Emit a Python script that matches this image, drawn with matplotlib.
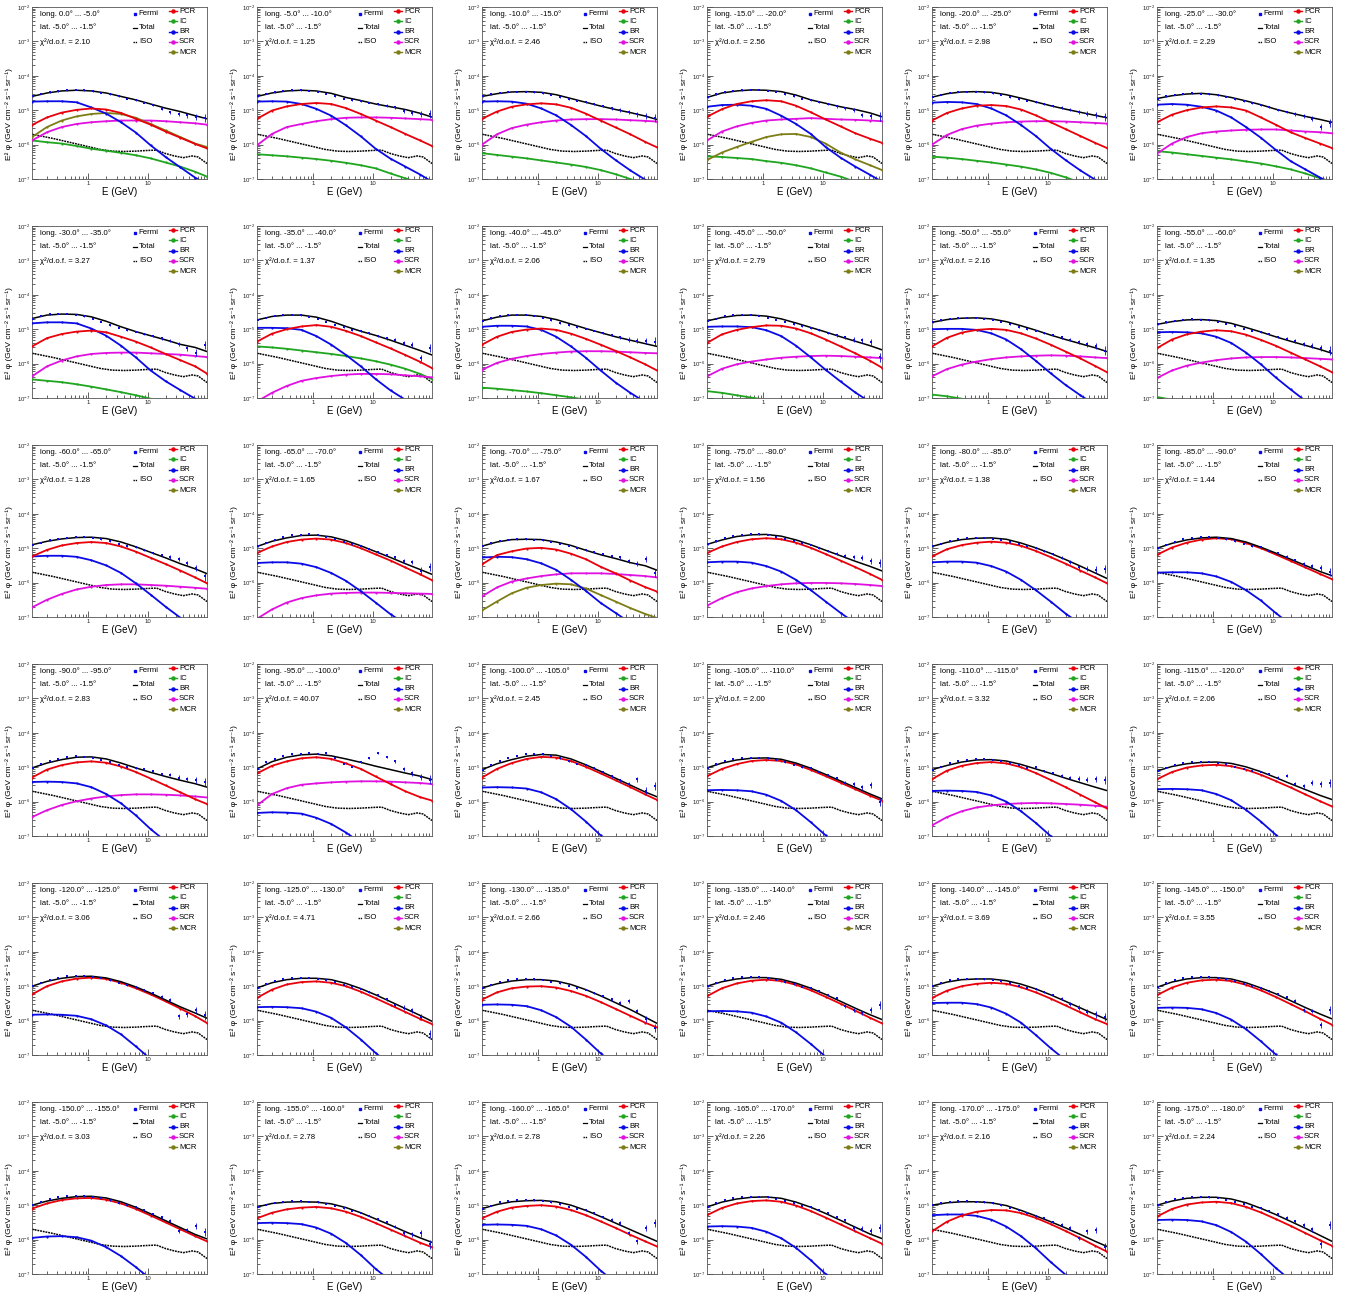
import numpy as np
import matplotlib
matplotlib.use("Agg")
import matplotlib.pyplot as plt
from matplotlib.ticker import FixedLocator, FixedFormatter, NullFormatter

plt.rcParams['font.family'] = ['Liberation Sans', 'DejaVu Sans']
plt.rcParams['mathtext.fontset'] = 'custom'
plt.rcParams['mathtext.rm'] = 'Liberation Sans'
plt.rcParams['mathtext.it'] = 'Liberation Sans:italic'

# longitude bins (lower edge) and fit quality of each panel
lon_lo = [0.0] + [-5.0 * i for i in range(1, 36)]
chi2 = [2.10, 1.25, 2.46, 2.56, 2.98, 2.29,
        3.27, 1.37, 2.06, 2.79, 2.16, 1.35,
        1.28, 1.65, 1.67, 1.56, 1.38, 1.44,
        2.83, 40.07, 2.45, 2.00, 3.32, 2.06,
        3.06, 4.71, 2.66, 2.46, 3.69, 3.55,
        3.03, 2.78, 2.78, 2.26, 2.16, 2.24]

# energies (GeV)
E_model = [0.112, 0.2, 0.355, 0.631, 1.12, 2.0, 3.55, 6.31, 11.2, 20.0, 35.5, 63.1, 100.0]
E_fermi = [0.115, 0.16, 0.224, 0.313, 0.436, 0.61, 0.851, 1.19, 1.66, 2.32, 3.24,
           4.52, 6.31, 8.81, 12.3, 17.2, 24.0, 33.5, 46.8, 65.3, 91.2]
E_iso = [0.112, 0.158, 0.251, 0.398, 0.631, 1.0, 1.58, 2.51, 3.98, 6.31, 10.0,
         14.1, 20.0, 28.2, 39.8, 56.2, 70.8, 100.0]

# log10 of E^2 flux, GeV cm^-2 s^-1 sr^-1
iso = [-5.70, -5.75, -5.82, -5.90, -5.98, -6.06, -6.14, -6.19, -6.20, -6.19, -6.17,
       -6.16, -6.26, -6.33, -6.38, -6.33, -6.36, -6.55]

# log10 error half-width of the Fermi points
fermi_err = [0.01, 0.01, 0.01, 0.01, 0.01, 0.01, 0.01, 0.01, 0.01, 0.015, 0.015,
             0.02, 0.02, 0.025, 0.03, 0.04, 0.05, 0.06, 0.07, 0.09, 0.12]

total = [
    [-4.60, -4.50, -4.44, -4.42, -4.44, -4.50, -4.60, -4.70, -4.82, -4.94, -5.04, -5.16, -5.25],
    [-4.60, -4.50, -4.44, -4.42, -4.44, -4.51, -4.63, -4.72, -4.82, -4.90, -4.98, -5.09, -5.20],
    [-4.60, -4.52, -4.47, -4.46, -4.48, -4.55, -4.66, -4.77, -4.88, -4.98, -5.07, -5.17, -5.27],
    [-4.63, -4.50, -4.44, -4.41, -4.42, -4.46, -4.56, -4.70, -4.80, -4.90, -4.98, -5.08, -5.19],
    [-4.62, -4.52, -4.47, -4.46, -4.48, -4.55, -4.65, -4.76, -4.87, -4.97, -5.06, -5.15, -5.22],
    [-4.66, -4.58, -4.53, -4.51, -4.55, -4.63, -4.73, -4.84, -4.97, -5.08, -5.18, -5.27, -5.35],
    [-4.69, -4.59, -4.56, -4.57, -4.64, -4.77, -4.93, -5.07, -5.19, -5.31, -5.44, -5.53, -5.65],
    [-4.73, -4.63, -4.59, -4.59, -4.65, -4.77, -4.92, -5.06, -5.18, -5.32, -5.47, -5.62, -5.75],
    [-4.76, -4.65, -4.59, -4.59, -4.63, -4.72, -4.85, -4.98, -5.10, -5.22, -5.32, -5.42, -5.50],
    [-4.76, -4.66, -4.60, -4.59, -4.62, -4.70, -4.82, -4.95, -5.08, -5.22, -5.35, -5.48, -5.60],
    [-4.80, -4.72, -4.68, -4.67, -4.70, -4.78, -4.90, -5.03, -5.17, -5.30, -5.42, -5.54, -5.65],
    [-4.86, -4.78, -4.73, -4.72, -4.75, -4.83, -4.95, -5.08, -5.22, -5.35, -5.47, -5.59, -5.70],
    [-4.90, -4.80, -4.73, -4.69, -4.68, -4.72, -4.82, -4.96, -5.12, -5.28, -5.45, -5.60, -5.74],
    [-4.95, -4.80, -4.70, -4.63, -4.62, -4.67, -4.78, -4.93, -5.10, -5.27, -5.45, -5.62, -5.76],
    [-4.94, -4.82, -4.75, -4.74, -4.75, -4.82, -4.92, -5.06, -5.19, -5.30, -5.42, -5.51, -5.64],
    [-4.89, -4.76, -4.66, -4.61, -4.60, -4.65, -4.76, -4.90, -5.06, -5.22, -5.38, -5.53, -5.66],
    [-4.95, -4.83, -4.75, -4.71, -4.70, -4.74, -4.85, -4.99, -5.15, -5.33, -5.52, -5.72, -5.88],
    [-5.00, -4.86, -4.76, -4.70, -4.68, -4.72, -4.82, -4.97, -5.14, -5.32, -5.50, -5.68, -5.80],
    [-5.02, -4.88, -4.78, -4.71, -4.70, -4.76, -4.88, -5.02, -5.15, -5.27, -5.38, -5.48, -5.58],
    [-5.05, -4.84, -4.71, -4.64, -4.62, -4.67, -4.76, -4.86, -4.97, -5.07, -5.17, -5.26, -5.36],
    [-5.07, -4.90, -4.78, -4.68, -4.63, -4.65, -4.76, -4.93, -5.12, -5.32, -5.52, -5.72, -5.86],
    [-5.02, -4.88, -4.79, -4.74, -4.73, -4.77, -4.88, -5.03, -5.21, -5.40, -5.59, -5.78, -5.92],
    [-5.07, -4.95, -4.85, -4.79, -4.78, -4.82, -4.92, -5.05, -5.18, -5.32, -5.45, -5.58, -5.68],
    [-5.11, -4.98, -4.90, -4.86, -4.85, -4.89, -4.99, -5.13, -5.30, -5.48, -5.65, -5.82, -5.94],
    [-5.00, -4.86, -4.77, -4.72, -4.71, -4.76, -4.87, -5.02, -5.20, -5.40, -5.60, -5.78, -5.93],
    [-5.05, -4.90, -4.81, -4.77, -4.77, -4.81, -4.92, -5.07, -5.25, -5.45, -5.65, -5.85, -6.02],
    [-5.05, -4.93, -4.85, -4.81, -4.81, -4.85, -4.95, -5.10, -5.28, -5.48, -5.68, -5.90, -6.08],
    [-5.00, -4.87, -4.79, -4.75, -4.75, -4.80, -4.91, -5.06, -5.24, -5.44, -5.64, -5.83, -5.97],
    [-5.00, -4.88, -4.81, -4.79, -4.79, -4.84, -4.94, -5.08, -5.25, -5.44, -5.63, -5.82, -5.97],
    [-5.03, -4.88, -4.79, -4.75, -4.75, -4.79, -4.90, -5.05, -5.22, -5.42, -5.62, -5.81, -5.95],
    [-5.00, -4.88, -4.80, -4.75, -4.74, -4.79, -4.90, -5.06, -5.25, -5.45, -5.65, -5.85, -5.98],
    [-5.05, -4.95, -4.91, -4.90, -4.91, -4.96, -5.07, -5.22, -5.40, -5.58, -5.77, -5.95, -6.08],
    [-5.10, -4.98, -4.90, -4.87, -4.86, -4.90, -5.00, -5.15, -5.33, -5.52, -5.71, -5.90, -6.05],
    [-5.05, -4.91, -4.82, -4.77, -4.76, -4.80, -4.91, -5.06, -5.24, -5.44, -5.64, -5.84, -5.97],
    [-5.00, -4.93, -4.90, -4.90, -4.93, -5.01, -5.15, -5.31, -5.48, -5.66, -5.85, -6.05, -6.20],
    [-5.00, -4.88, -4.80, -4.77, -4.77, -4.82, -4.93, -5.09, -5.27, -5.47, -5.67, -5.88, -6.05],
]

pcr = [
    [-5.43, -5.21, -5.07, -4.99, -4.95, -4.98, -5.08, -5.25, -5.42, -5.62, -5.80, -5.98, -6.11],
    [-5.25, -5.01, -4.89, -4.82, -4.79, -4.82, -4.94, -5.11, -5.30, -5.49, -5.69, -5.88, -6.04],
    [-5.25, -5.04, -4.90, -4.83, -4.80, -4.83, -4.93, -5.10, -5.30, -5.50, -5.70, -5.92, -6.08],
    [-5.19, -4.97, -4.82, -4.74, -4.71, -4.74, -4.87, -5.06, -5.27, -5.47, -5.67, -5.83, -5.95],
    [-5.30, -5.08, -4.95, -4.87, -4.85, -4.88, -4.98, -5.15, -5.35, -5.55, -5.75, -5.95, -6.10],
    [-5.35, -5.13, -5.00, -4.92, -4.89, -4.92, -5.01, -5.21, -5.42, -5.64, -5.81, -5.97, -6.10],
    [-5.50, -5.26, -5.14, -5.07, -5.04, -5.09, -5.22, -5.36, -5.53, -5.72, -5.90, -6.08, -6.29],
    [-5.36, -5.13, -5.00, -4.92, -4.88, -4.93, -5.05, -5.20, -5.38, -5.56, -5.75, -5.95, -6.13],
    [-5.45, -5.22, -5.08, -5.01, -4.98, -5.02, -5.13, -5.28, -5.45, -5.63, -5.82, -6.02, -6.20],
    [-5.40, -5.15, -5.02, -4.94, -4.89, -4.90, -4.98, -5.12, -5.30, -5.50, -5.70, -5.92, -6.12],
    [-5.50, -5.25, -5.10, -5.02, -4.99, -5.02, -5.12, -5.27, -5.45, -5.65, -5.85, -6.07, -6.25],
    [-5.55, -5.30, -5.15, -5.07, -5.03, -5.06, -5.16, -5.31, -5.48, -5.68, -5.88, -6.08, -6.25],
    [-5.24, -5.05, -4.92, -4.85, -4.82, -4.85, -4.95, -5.10, -5.28, -5.46, -5.65, -5.85, -6.02],
    [-5.14, -4.95, -4.82, -4.75, -4.72, -4.75, -4.85, -5.00, -5.18, -5.36, -5.56, -5.76, -5.93],
    [-5.47, -5.20, -5.09, -5.01, -4.99, -5.04, -5.16, -5.32, -5.54, -5.73, -5.94, -6.13, -6.26],
    [-5.14, -4.95, -4.82, -4.74, -4.71, -4.74, -4.84, -4.99, -5.17, -5.36, -5.55, -5.75, -5.92],
    [-5.24, -5.03, -4.91, -4.84, -4.81, -4.84, -4.93, -5.08, -5.26, -5.45, -5.65, -5.85, -6.02],
    [-5.19, -4.98, -4.84, -4.75, -4.71, -4.74, -4.85, -5.00, -5.18, -5.37, -5.56, -5.75, -5.90],
    [-5.30, -5.07, -4.94, -4.86, -4.83, -4.87, -4.98, -5.14, -5.33, -5.53, -5.73, -5.93, -6.07],
    [-5.18, -4.96, -4.83, -4.74, -4.71, -4.76, -4.89, -5.05, -5.27, -5.49, -5.70, -5.87, -5.97],
    [-5.30, -5.05, -4.88, -4.76, -4.70, -4.72, -4.82, -4.99, -5.18, -5.38, -5.58, -5.79, -5.95],
    [-5.26, -5.05, -4.91, -4.82, -4.79, -4.82, -4.92, -5.08, -5.26, -5.45, -5.64, -5.83, -5.97],
    [-5.35, -5.10, -4.96, -4.88, -4.85, -4.89, -5.00, -5.17, -5.37, -5.58, -5.80, -6.02, -6.20],
    [-5.35, -5.14, -5.01, -4.95, -4.93, -4.97, -5.07, -5.22, -5.40, -5.59, -5.79, -5.99, -6.14],
    [-5.24, -5.00, -4.86, -4.78, -4.75, -4.79, -4.90, -5.06, -5.24, -5.44, -5.65, -5.87, -6.07],
    [-5.34, -5.10, -4.95, -4.88, -4.86, -4.90, -5.00, -5.16, -5.35, -5.55, -5.75, -5.95, -6.10],
    [-5.39, -5.18, -5.06, -5.01, -5.00, -5.04, -5.14, -5.28, -5.46, -5.66, -5.86, -6.06, -6.20],
    [-5.29, -5.06, -4.92, -4.84, -4.81, -4.85, -4.96, -5.12, -5.31, -5.51, -5.71, -5.92, -6.08],
    [-5.34, -5.13, -5.00, -4.93, -4.90, -4.93, -5.03, -5.18, -5.36, -5.56, -5.76, -5.96, -6.10],
    [-5.26, -5.04, -4.90, -4.83, -4.81, -4.85, -4.96, -5.12, -5.31, -5.52, -5.73, -5.95, -6.12],
    [-5.10, -4.95, -4.85, -4.80, -4.79, -4.84, -4.95, -5.11, -5.30, -5.50, -5.70, -5.90, -6.05],
    [-5.38, -5.22, -5.12, -5.07, -5.05, -5.09, -5.19, -5.34, -5.52, -5.71, -5.90, -6.09, -6.22],
    [-5.38, -5.19, -5.07, -5.02, -5.00, -5.04, -5.14, -5.29, -5.47, -5.66, -5.86, -6.05, -6.20],
    [-5.29, -5.08, -4.95, -4.88, -4.86, -4.90, -5.01, -5.17, -5.36, -5.56, -5.76, -5.96, -6.12],
    [-5.76, -5.48, -5.30, -5.19, -5.14, -5.15, -5.23, -5.37, -5.55, -5.75, -5.96, -6.18, -6.35],
    [-5.33, -5.11, -4.98, -4.92, -4.90, -4.94, -5.05, -5.21, -5.40, -5.60, -5.81, -6.02, -6.18],
]

br = [
    [-4.75, -4.74, -4.74, -4.77, -4.92, -5.10, -5.35, -5.65, -6.02, -6.36, -6.66, -6.96, -7.15],
    [-4.75, -4.74, -4.75, -4.82, -4.96, -5.16, -5.44, -5.76, -6.12, -6.41, -6.64, -6.87, -7.08],
    [-4.75, -4.74, -4.75, -4.81, -4.95, -5.15, -5.43, -5.75, -6.12, -6.45, -6.75, -7.02, -7.20],
    [-4.90, -4.85, -4.84, -4.87, -4.96, -5.16, -5.40, -5.69, -6.07, -6.38, -6.64, -6.88, -7.08],
    [-4.78, -4.76, -4.77, -4.82, -4.95, -5.15, -5.43, -5.75, -6.12, -6.45, -6.75, -7.02, -7.20],
    [-4.84, -4.82, -4.84, -4.90, -5.01, -5.21, -5.49, -5.80, -6.15, -6.48, -6.72, -6.96, -7.14],
    [-4.83, -4.80, -4.80, -4.83, -4.98, -5.19, -5.48, -5.82, -6.20, -6.51, -6.77, -7.02, -7.23],
    [-4.96, -4.96, -4.97, -5.02, -5.20, -5.45, -5.75, -6.08, -6.45, -6.78, -7.05, -7.30, -7.45],
    [-4.93, -4.90, -4.90, -4.92, -5.02, -5.22, -5.50, -5.83, -6.20, -6.55, -6.85, -7.12, -7.30],
    [-4.93, -4.92, -4.92, -4.94, -5.03, -5.20, -5.48, -5.82, -6.18, -6.52, -6.84, -7.12, -7.30],
    [-5.00, -4.99, -4.99, -5.02, -5.12, -5.30, -5.58, -5.92, -6.28, -6.62, -6.92, -7.20, -7.38],
    [-5.09, -5.08, -5.09, -5.12, -5.22, -5.40, -5.68, -6.02, -6.40, -6.75, -7.08, -7.35, -7.50],
    [-5.24, -5.22, -5.22, -5.25, -5.35, -5.50, -5.72, -6.02, -6.35, -6.70, -7.02, -7.30, -7.50],
    [-5.43, -5.41, -5.41, -5.45, -5.55, -5.72, -5.95, -6.25, -6.58, -6.92, -7.20, -7.40, -7.50],
    [-5.27, -5.25, -5.26, -5.32, -5.44, -5.63, -5.92, -6.24, -6.59, -6.88, -7.17, -7.40, -7.50],
    [-5.41, -5.39, -5.39, -5.42, -5.52, -5.68, -5.92, -6.22, -6.55, -6.88, -7.18, -7.40, -7.50],
    [-5.41, -5.39, -5.39, -5.42, -5.52, -5.68, -5.92, -6.22, -6.55, -6.90, -7.20, -7.40, -7.50],
    [-5.71, -5.70, -5.70, -5.73, -5.82, -5.98, -6.22, -6.52, -6.88, -7.22, -7.50, -7.60, -7.70],
    [-5.43, -5.42, -5.43, -5.47, -5.58, -5.78, -6.05, -6.40, -6.80, -7.15, -7.45, -7.60, -7.70],
    [-6.33, -6.31, -6.32, -6.35, -6.47, -6.65, -6.90, -7.20, -7.50, -7.80, -8.00, -8.00, -8.00],
    [-5.59, -5.58, -5.59, -5.62, -5.73, -5.93, -6.22, -6.58, -6.98, -7.35, -7.60, -7.70, -7.80],
    [-5.67, -5.66, -5.67, -5.70, -5.80, -5.98, -6.25, -6.60, -6.98, -7.35, -7.60, -7.70, -7.80],
    [-5.69, -5.68, -5.69, -5.72, -5.82, -6.00, -6.28, -6.62, -7.00, -7.38, -7.60, -7.70, -7.80],
    [-5.64, -5.63, -5.64, -5.67, -5.78, -5.96, -6.24, -6.58, -6.96, -7.32, -7.60, -7.70, -7.80],
    [-5.83, -5.82, -5.83, -5.86, -5.96, -6.14, -6.40, -6.75, -7.12, -7.50, -7.80, -8.00, -8.00],
    [-5.61, -5.60, -5.61, -5.64, -5.74, -5.92, -6.20, -6.55, -6.94, -7.30, -7.60, -7.70, -7.80],
    [-5.54, -5.53, -5.54, -5.58, -5.70, -5.90, -6.18, -6.55, -6.95, -7.30, -7.60, -7.70, -7.80],
    [-5.73, -5.72, -5.73, -5.77, -5.88, -6.06, -6.34, -6.68, -7.05, -7.40, -7.70, -7.80, -7.90],
    [-5.49, -5.48, -5.48, -5.52, -5.62, -5.80, -6.06, -6.42, -6.80, -7.15, -7.45, -7.60, -7.70],
    [-5.63, -5.62, -5.63, -5.67, -5.78, -5.97, -6.25, -6.60, -6.98, -7.35, -7.60, -7.70, -7.80],
    [-5.95, -5.91, -5.90, -5.93, -6.03, -6.22, -6.48, -6.80, -7.15, -7.50, -7.80, -8.00, -8.00],
    [-5.52, -5.51, -5.52, -5.55, -5.65, -5.83, -6.10, -6.45, -6.85, -7.20, -7.50, -7.60, -7.70],
    [-5.57, -5.56, -5.57, -5.60, -5.70, -5.88, -6.15, -6.50, -6.90, -7.25, -7.55, -7.70, -7.80],
    [-5.62, -5.61, -5.62, -5.66, -5.77, -5.96, -6.24, -6.60, -7.00, -7.35, -7.60, -7.70, -7.80],
    [-5.29, -5.27, -5.27, -5.31, -5.42, -5.62, -5.90, -6.25, -6.65, -7.02, -7.35, -7.60, -7.70],
    [-5.43, -5.42, -5.43, -5.47, -5.58, -5.78, -6.06, -6.42, -6.82, -7.18, -7.50, -7.70, -7.80],
]

# SCR, IC and MCR only where they show above 1e-7 (keyed by panel index)
scr = {
    0: [-5.88, -5.64, -5.49, -5.40, -5.35, -5.32, -5.30, -5.30, -5.30, -5.32, -5.35, -5.38, -5.42],
    1: [-6.02, -5.69, -5.49, -5.40, -5.32, -5.26, -5.22, -5.21, -5.21, -5.22, -5.24, -5.26, -5.28],
    2: [-6.00, -5.70, -5.52, -5.42, -5.35, -5.30, -5.27, -5.26, -5.26, -5.27, -5.29, -5.31, -5.33],
    3: [-5.88, -5.62, -5.47, -5.37, -5.30, -5.27, -5.25, -5.23, -5.25, -5.27, -5.28, -5.30, -5.32],
    4: [-6.00, -5.72, -5.55, -5.45, -5.39, -5.35, -5.33, -5.32, -5.32, -5.33, -5.35, -5.37, -5.39],
    5: [-6.26, -5.97, -5.78, -5.67, -5.62, -5.59, -5.57, -5.56, -5.56, -5.59, -5.62, -5.64, -5.67],
    6: [-6.37, -6.08, -5.91, -5.79, -5.72, -5.69, -5.68, -5.68, -5.70, -5.72, -5.74, -5.78, -5.81],
    7: [-7.10, -6.85, -6.65, -6.50, -6.42, -6.36, -6.32, -6.30, -6.30, -6.31, -6.34, -6.37, -6.40],
    8: [-6.18, -5.98, -5.86, -5.78, -5.72, -5.68, -5.65, -5.64, -5.64, -5.65, -5.67, -5.69, -5.70],
    9: [-6.37, -6.15, -6.02, -5.94, -5.88, -5.83, -5.80, -5.78, -5.77, -5.78, -5.80, -5.82, -5.84],
    10: [-6.37, -6.16, -6.03, -5.94, -5.87, -5.82, -5.79, -5.77, -5.76, -5.77, -5.79, -5.82, -5.84],
    11: [-6.42, -6.20, -6.06, -5.97, -5.90, -5.85, -5.82, -5.81, -5.81, -5.82, -5.84, -5.86, -5.88],
    12: [-6.72, -6.50, -6.33, -6.20, -6.12, -6.07, -6.05, -6.05, -6.07, -6.09, -6.12, -6.15, -6.18],
    13: [-7.05, -6.78, -6.58, -6.45, -6.37, -6.32, -6.30, -6.29, -6.29, -6.30, -6.31, -6.32, -6.33],
    14: [-6.40, -6.14, -5.97, -5.88, -5.81, -5.76, -5.73, -5.73, -5.73, -5.75, -5.78, -5.81, -5.85],
    15: [-6.67, -6.45, -6.28, -6.17, -6.10, -6.05, -6.02, -6.01, -6.01, -6.02, -6.04, -6.07, -6.10],
    18: [-6.45, -6.25, -6.10, -5.99, -5.91, -5.85, -5.81, -5.79, -5.79, -5.80, -5.82, -5.85, -5.88],
    19: [-6.11, -5.78, -5.61, -5.51, -5.47, -5.44, -5.42, -5.41, -5.41, -5.42, -5.44, -5.46, -5.49],
    22: [-6.69, -6.45, -6.28, -6.17, -6.11, -6.07, -6.05, -6.04, -6.05, -6.07, -6.09, -6.12, -6.15],
}

ic = {
    0: [-5.88, -5.93, -5.97, -6.04, -6.12, -6.18, -6.24, -6.31, -6.40, -6.52, -6.64, -6.79, -6.93],
    1: [-6.28, -6.31, -6.34, -6.38, -6.42, -6.47, -6.53, -6.60, -6.69, -6.84, -6.98, -7.12, -7.27],
    2: [-6.25, -6.30, -6.35, -6.40, -6.46, -6.52, -6.58, -6.65, -6.74, -6.86, -7.00, -7.15, -7.30],
    3: [-6.34, -6.36, -6.39, -6.42, -6.48, -6.53, -6.60, -6.69, -6.81, -6.93, -7.08, -7.20, -7.30],
    4: [-6.35, -6.38, -6.42, -6.47, -6.52, -6.58, -6.64, -6.72, -6.82, -6.95, -7.10, -7.25, -7.40],
    5: [-6.19, -6.23, -6.28, -6.33, -6.38, -6.43, -6.49, -6.55, -6.63, -6.72, -6.84, -6.98, -7.08],
    6: [-6.46, -6.50, -6.54, -6.60, -6.67, -6.75, -6.83, -6.92, -7.02, -7.12, -7.22, -7.32, -7.40],
    7: [-5.50, -5.53, -5.57, -5.62, -5.67, -5.72, -5.78, -5.85, -5.93, -6.03, -6.15, -6.30, -6.45],
    8: [-6.70, -6.73, -6.77, -6.81, -6.86, -6.92, -6.98, -7.05, -7.12, -7.20, -7.30, -7.40, -7.50],
    9: [-6.80, -6.85, -6.92, -6.99, -7.05, -7.12, -7.20, -7.30, -7.40, -7.50, -7.60, -7.70, -7.80],
    10: [-6.90, -6.95, -7.02, -7.10, -7.18, -7.26, -7.34, -7.42, -7.50, -7.60, -7.70, -7.80, -7.90],
    11: [-6.97, -7.05, -7.15, -7.25, -7.35, -7.45, -7.55, -7.65, -7.75, -7.85, -7.95, -8.05, -8.15],
}

mcr = {
    0: [-5.78, -5.49, -5.30, -5.18, -5.11, -5.08, -5.11, -5.22, -5.40, -5.59, -5.78, -5.97, -6.07],
    3: [-6.45, -6.23, -6.07, -5.92, -5.78, -5.70, -5.69, -5.78, -5.97, -6.23, -6.43, -6.60, -6.74],
    14: [-6.81, -6.55, -6.31, -6.15, -6.07, -6.03, -6.05, -6.17, -6.36, -6.55, -6.74, -6.91, -7.03],
}

fermi = [
    [-4.60, -4.53, -4.48, -4.45, -4.42, -4.41, -4.42, -4.45, -4.49, -4.54, -4.60, -4.66, -4.71, -4.78, -4.85, -4.96, -5.06, -5.10, -5.15, -5.20, -5.23],
    [-4.60, -4.53, -4.48, -4.44, -4.42, -4.42, -4.44, -4.47, -4.53, -4.60, -4.66, -4.70, -4.73, -4.78, -4.83, -4.87, -4.92, -5.02, -5.08, -5.12, -5.10],
    [-4.60, -4.54, -4.50, -4.47, -4.46, -4.46, -4.48, -4.51, -4.56, -4.62, -4.68, -4.72, -4.77, -4.83, -4.89, -4.95, -5.00, -5.06, -5.12, -5.16, -5.22],
    [-4.63, -4.54, -4.48, -4.44, -4.42, -4.41, -4.41, -4.43, -4.47, -4.53, -4.60, -4.66, -4.71, -4.77, -4.83, -4.89, -4.95, -5.00, -5.14, -5.18, -5.18],
    [-4.62, -4.55, -4.50, -4.47, -4.46, -4.46, -4.48, -4.51, -4.56, -4.62, -4.68, -4.72, -4.76, -4.82, -4.88, -4.93, -4.98, -5.04, -5.10, -5.14, -5.20],
    [-4.66, -4.60, -4.55, -4.52, -4.51, -4.52, -4.54, -4.57, -4.62, -4.68, -4.74, -4.80, -4.85, -4.92, -4.99, -5.05, -5.11, -5.17, -5.25, -5.50, -5.38],
    [-4.69, -4.62, -4.57, -4.56, -4.56, -4.58, -4.63, -4.70, -4.79, -4.88, -4.96, -5.03, -5.07, -5.13, -5.21, -5.26, -5.33, -5.43, -5.55, -5.68, -5.46],
    [-4.73, -4.66, -4.61, -4.59, -4.59, -4.60, -4.64, -4.70, -4.78, -4.87, -4.95, -5.02, -5.06, -5.12, -5.20, -5.27, -5.32, -5.40, -5.45, -5.84, -5.55],
    [-4.76, -4.68, -4.62, -4.59, -4.58, -4.59, -4.62, -4.67, -4.74, -4.82, -4.89, -4.95, -4.98, -5.04, -5.11, -5.17, -5.24, -5.30, -5.34, -5.35, -5.36],
    [-4.76, -4.69, -4.62, -4.59, -4.58, -4.58, -4.61, -4.66, -4.72, -4.79, -4.86, -4.92, -4.96, -5.03, -5.10, -5.18, -5.24, -5.30, -5.32, -5.37, -5.82],
    [-4.80, -4.74, -4.70, -4.67, -4.66, -4.67, -4.69, -4.73, -4.79, -4.86, -4.94, -5.00, -5.04, -5.10, -5.16, -5.24, -5.30, -5.36, -5.44, -5.50, -5.62],
    [-4.86, -4.80, -4.75, -4.72, -4.71, -4.72, -4.74, -4.78, -4.84, -4.91, -4.98, -5.04, -5.08, -5.15, -5.22, -5.28, -5.34, -5.42, -5.48, -5.55, -5.62],
    [-4.90, -4.84, -4.77, -4.72, -4.69, -4.67, -4.67, -4.69, -4.74, -4.80, -4.88, -4.94, -4.96, -5.06, -5.14, -5.20, -5.26, -5.32, -5.44, -5.58, -5.82],
    [-4.95, -4.85, -4.75, -4.67, -4.63, -4.61, -4.60, -4.62, -4.67, -4.73, -4.81, -4.88, -4.93, -5.02, -5.12, -5.20, -5.27, -5.38, -5.40, -5.65, -5.55],
    [-4.94, -4.86, -4.79, -4.75, -4.74, -4.74, -4.75, -4.77, -4.82, -4.87, -4.93, -4.99, -5.06, -5.12, -5.18, -5.23, -5.27, -5.38, -5.45, -5.32, -5.73],
    [-4.89, -4.80, -4.71, -4.65, -4.62, -4.60, -4.60, -4.62, -4.66, -4.72, -4.79, -4.86, -4.90, -4.99, -5.08, -5.16, -5.23, -5.25, -5.28, -5.38, -5.42],
    [-4.95, -4.87, -4.78, -4.73, -4.70, -4.69, -4.70, -4.72, -4.76, -4.82, -4.89, -4.95, -4.99, -5.08, -5.17, -5.28, -5.40, -5.55, -5.60, -5.62, -5.60],
    [-5.00, -4.90, -4.81, -4.73, -4.69, -4.67, -4.67, -4.69, -4.74, -4.80, -4.87, -4.94, -4.97, -5.08, -5.15, -5.25, -5.35, -5.45, -5.52, -5.58, -5.70],
    [-5.02, -4.92, -4.82, -4.75, -4.70, -4.68, -4.69, -4.72, -4.78, -4.86, -4.94, -5.00, -5.02, -5.05, -5.12, -5.20, -5.22, -5.30, -5.35, -5.38, -5.42],
    [-5.05, -4.86, -4.77, -4.68, -4.63, -4.61, -4.60, -4.62, -4.60, -4.72, -4.90, -4.98, -4.86, -4.74, -4.60, -4.70, -4.83, -5.05, -5.18, -5.29, -5.36],
    [-5.07, -4.95, -4.83, -4.73, -4.66, -4.62, -4.61, -4.63, -4.67, -4.74, -4.83, -4.90, -4.93, -5.03, -5.15, -5.26, -5.38, -5.50, -5.35, -5.68, -5.55],
    [-5.02, -4.92, -4.83, -4.77, -4.73, -4.72, -4.72, -4.74, -4.78, -4.85, -4.93, -4.99, -5.03, -5.14, -5.22, -5.32, -5.45, -5.50, -5.58, -5.52, -6.02],
    [-5.07, -4.98, -4.89, -4.82, -4.78, -4.76, -4.76, -4.78, -4.82, -4.88, -4.95, -5.01, -5.00, -5.12, -5.18, -5.25, -5.30, -5.33, -5.36, -5.35, -5.38],
    [-5.11, -5.02, -4.93, -4.88, -4.85, -4.84, -4.85, -4.87, -4.92, -4.98, -5.05, -5.10, -5.13, -5.20, -5.30, -5.25, -5.48, -5.55, -5.45, -5.50, -5.45],
    [-5.00, -4.90, -4.81, -4.75, -4.71, -4.70, -4.70, -4.72, -4.76, -4.83, -4.90, -4.96, -5.02, -5.12, -5.20, -5.30, -5.40, -5.88, -5.82, -5.70, -5.85],
    [-5.05, -4.94, -4.85, -4.79, -4.76, -4.75, -4.76, -4.78, -4.83, -4.89, -4.96, -5.02, -5.07, -5.16, -5.26, -5.38, -5.55, -5.62, -5.70, -5.90, -6.40],
    [-5.05, -4.96, -4.88, -4.83, -4.80, -4.79, -4.80, -4.82, -4.87, -4.92, -4.98, -5.05, -5.10, -5.19, -5.28, -5.38, -5.48, -5.42, -5.72, -5.95, -6.22],
    [-5.00, -4.91, -4.82, -4.77, -4.74, -4.73, -4.74, -4.77, -4.81, -4.88, -4.95, -5.01, -5.06, -5.15, -5.25, -5.35, -5.58, -5.70, -5.78, -5.70, -5.55],
    [-5.00, -4.91, -4.83, -4.79, -4.78, -4.78, -4.80, -4.82, -4.86, -4.92, -4.99, -5.05, -5.08, -5.16, -5.26, -5.36, -5.52, -5.62, -5.74, -5.82, -5.90],
    [-5.03, -4.92, -4.82, -4.77, -4.74, -4.73, -4.74, -4.76, -4.80, -4.86, -4.93, -5.00, -5.05, -5.14, -5.22, -5.32, -5.42, -5.70, -5.72, -6.12, -5.70],
    [-5.00, -4.91, -4.83, -4.77, -4.74, -4.73, -4.74, -4.76, -4.80, -4.86, -4.94, -5.00, -5.06, -5.15, -5.26, -5.35, -5.45, -5.76, -5.72, -5.60, -5.78],
    [-5.05, -4.98, -4.93, -4.90, -4.89, -4.89, -4.90, -4.92, -4.96, -5.02, -5.09, -5.16, -5.22, -5.30, -5.40, -5.50, -5.62, -5.80, -5.85, -5.82, -6.14],
    [-5.10, -5.01, -4.92, -4.88, -4.86, -4.85, -4.86, -4.88, -4.92, -4.97, -5.04, -5.10, -5.15, -5.24, -5.33, -5.42, -5.52, -5.80, -6.05, -5.67, -5.52],
    [-5.05, -4.95, -4.86, -4.79, -4.76, -4.75, -4.75, -4.77, -4.81, -4.87, -4.95, -5.01, -5.06, -5.15, -5.24, -5.34, -5.44, -5.66, -5.68, -5.75, -5.67],
    [-5.00, -4.95, -4.91, -4.89, -4.89, -4.90, -4.92, -4.95, -5.00, -5.07, -5.15, -5.23, -5.31, -5.38, -5.48, -5.57, -5.66, -5.95, -5.76, -5.71, -6.22],
    [-5.00, -4.91, -4.83, -4.78, -4.76, -4.76, -4.77, -4.79, -4.84, -4.90, -4.97, -5.04, -5.09, -5.18, -5.27, -5.36, -5.47, -5.58, -5.70, -6.14, -5.57],
]

colors = {'PCR': '#e8000b', 'IC': '#1fa51f', 'BR': '#0a0ae6', 'SCR': '#e010e0',
          'MCR': '#7d7d16', 'Fermi': '#0a0ae6'}

W, H = 1351, 1303
fig = plt.figure(figsize=(W / 100, H / 100), dpi=100)
fig.patch.set_facecolor('white')


def curve(ax, vals, color, zorder=3):
    ax.plot(E_model, 10.0 ** np.asarray(vals), color=color, lw=1.3,
            marker='o', ms=1.6, mew=0, zorder=zorder)


x_minor = [0.2, 0.3, 0.4, 0.5, 0.6, 0.7, 0.8, 0.9, 2, 3, 4, 5, 6, 7, 8, 9,
           20, 30, 40, 50, 60, 70, 80, 90]
y_major = [1e-7, 1e-6, 1e-5, 1e-4, 1e-3, 1e-2]
y_minor = [m * 10.0 ** p for p in range(-7, -2) for m in range(2, 10)]

for i in range(36):
    r, c = divmod(i, 6)
    ax = fig.add_axes([(32 + 225 * c) / W, 1 - (7 + 219 * r + 172) / H, 175 / W, 172 / H])
    ax.set_xscale('log')
    ax.set_yscale('log')

    # isotropic background, identical in every panel
    ax.plot(E_iso, 10.0 ** np.asarray(iso), color='black', lw=1.1,
            ls=(0, (1.2, 0.6)), zorder=2)
    if i in ic:
        curve(ax, ic[i], colors['IC'])
    if i in scr:
        curve(ax, scr[i], colors['SCR'])
    if i in mcr:
        curve(ax, mcr[i], colors['MCR'])
    curve(ax, br[i], colors['BR'])
    curve(ax, pcr[i], colors['PCR'])
    ax.plot(E_model, 10.0 ** np.asarray(total[i]), color='black', lw=1.1, zorder=4)

    f = 10.0 ** np.asarray(fermi[i])
    e = np.asarray(fermi_err)
    ax.errorbar(E_fermi, f, yerr=[f - f * 10.0 ** -e, f * 10.0 ** e - f],
                fmt='s', ms=1.8, mew=0, color=colors['Fermi'], elinewidth=0.6,
                capsize=0, zorder=5)

    ax.set_xlim(0.112, 100)
    ax.set_ylim(1e-7, 1e-2)
    ax.xaxis.set_major_locator(FixedLocator([1, 10]))
    ax.xaxis.set_major_formatter(FixedFormatter(['1', '10']))
    ax.xaxis.set_minor_locator(FixedLocator(x_minor))
    ax.xaxis.set_minor_formatter(NullFormatter())
    ax.yaxis.set_major_locator(FixedLocator(y_major))
    ax.yaxis.set_major_formatter(FixedFormatter(
        [r'$10^{-7}$', r'$10^{-6}$', r'$10^{-5}$', r'$10^{-4}$', r'$10^{-3}$', r'$10^{-2}$']))
    ax.yaxis.set_minor_locator(FixedLocator(y_minor))
    ax.yaxis.set_minor_formatter(NullFormatter())
    ax.tick_params(which='both', direction='in', top=False, right=False,
                   labelsize=4.3, width=0.5, colors='#222222')
    ax.tick_params(which='major', length=4, pad=1.5)
    ax.tick_params(which='minor', length=2)
    for s in ax.spines.values():
        s.set_linewidth(0.6)
        s.set_color('#555555')

    ax.set_xlabel('E (GeV)', fontsize=7, labelpad=1)
    ax.text(-0.128, 0.38, 'E² φ (GeV cm⁻² s⁻¹ sr⁻¹)', transform=ax.transAxes,
            rotation=90, ha='center', va='center', fontsize=6.0)

    # region and fit summary
    lo = lon_lo[i]
    ax.text(0.045, 0.96, f'long. {lo:.1f}° ... {lo - 5:.1f}°', transform=ax.transAxes,
            fontsize=5.6, va='center')
    ax.text(0.045, 0.878, 'lat. -5.0° ... -1.5°', transform=ax.transAxes,
            fontsize=5.6, va='center')
    ax.text(0.045, 0.797, f'χ²/d.o.f. = {chi2[i]:.2f}', transform=ax.transAxes,
            fontsize=5.6, va='center')

    # legend, data and totals column
    tr = ax.transAxes
    ax.plot([0.59], [0.96], 's', ms=1.8, color=colors['Fermi'], transform=tr, clip_on=False)
    ax.text(0.61, 0.96, 'Fermi', transform=tr, fontsize=5.6, va='center')
    ax.plot([0.575, 0.6], [0.878, 0.878], color='black', lw=0.9, transform=tr)
    ax.text(0.61, 0.878, 'Total', transform=tr, fontsize=5.6, va='center')
    ax.plot([0.575, 0.6], [0.797, 0.797], color='black', lw=1.0, ls=(0, (1, 0.6)), transform=tr)
    ax.text(0.61, 0.797, 'ISO', transform=tr, fontsize=5.6, va='center')

    # legend, components column
    for name, yy in zip(['PCR', 'IC', 'BR', 'SCR', 'MCR'], [0.975, 0.917, 0.856, 0.797, 0.736]):
        ax.plot([0.785, 0.83], [yy, yy], color=colors[name], lw=1.0, transform=tr, clip_on=False)
        ax.plot([0.807], [yy], 'o', ms=3.2, mew=0, color=colors[name], transform=tr, clip_on=False)
        ax.text(0.84, yy, name, transform=tr, fontsize=5.6, va='center')

fig.savefig('out.png', dpi=100, facecolor='white')
